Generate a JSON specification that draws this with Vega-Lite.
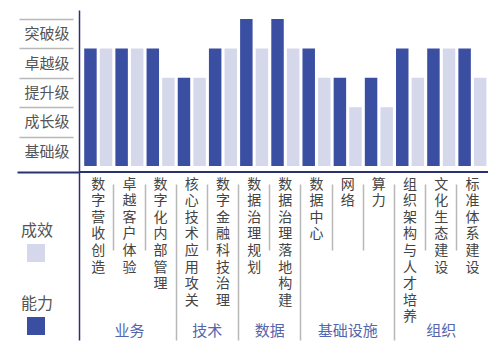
{
  "$schema": "https://vega.github.io/schema/vega-lite/v6.json",
  "width": 409,
  "height": 330,
  "autosize": {"type": "none"},
  "padding": {"left": 79, "top": 10, "right": 12, "bottom": 15},
  "background": "white",
  "config": {"font": "Noto Sans CJK SC", "view": {"stroke": null}},
  "datasets": {
    "bars": [
      {"cat": "数字营收创造", "series": "能力", "value": 4},
      {"cat": "数字营收创造", "series": "成效", "value": 4},
      {"cat": "卓越客户体验", "series": "能力", "value": 4},
      {"cat": "卓越客户体验", "series": "成效", "value": 4},
      {"cat": "数字化内部管理", "series": "能力", "value": 4},
      {"cat": "数字化内部管理", "series": "成效", "value": 3},
      {"cat": "核心技术应用攻关", "series": "能力", "value": 3},
      {"cat": "核心技术应用攻关", "series": "成效", "value": 3},
      {"cat": "数字金融科技治理", "series": "能力", "value": 4},
      {"cat": "数字金融科技治理", "series": "成效", "value": 4},
      {"cat": "数据治理规划", "series": "能力", "value": 5},
      {"cat": "数据治理规划", "series": "成效", "value": 4},
      {"cat": "数据治理落地构建", "series": "能力", "value": 5},
      {"cat": "数据治理落地构建", "series": "成效", "value": 4},
      {"cat": "数据中心", "series": "能力", "value": 4},
      {"cat": "数据中心", "series": "成效", "value": 3},
      {"cat": "网络", "series": "能力", "value": 3},
      {"cat": "网络", "series": "成效", "value": 2},
      {"cat": "算力", "series": "能力", "value": 3},
      {"cat": "算力", "series": "成效", "value": 2},
      {"cat": "组织架构与人才培养", "series": "能力", "value": 4},
      {"cat": "组织架构与人才培养", "series": "成效", "value": 3},
      {"cat": "文化生态建设", "series": "能力", "value": 4},
      {"cat": "文化生态建设", "series": "成效", "value": 4},
      {"cat": "标准体系建设", "series": "能力", "value": 4},
      {"cat": "标准体系建设", "series": "成效", "value": 3}
    ],
    "groups": [
      {"group": "业务", "anchor": "卓越客户体验"},
      {"group": "技术", "anchor": "数字金融科技治理"},
      {"group": "数据", "anchor": "数据治理落地构建"},
      {"group": "基础设施", "anchor": "网络"},
      {"group": "组织", "anchor": "文化生态建设"}
    ],
    "baseline": [{"name": "axis"}]
  },
  "resolve": {"scale": {"color": "independent"}},
  "layer": [
    {
      "data": {"name": "bars"},
      "transform": [{"filter": "datum.series == '能力'"}],
      "mark": {"type": "bar"},
      "encoding": {
        "x": {
          "field": "cat",
          "type": "nominal",
          "scale": {
            "domain": ["数字营收创造", "卓越客户体验", "数字化内部管理", "核心技术应用攻关", "数字金融科技治理", "数据治理规划", "数据治理落地构建", "数据中心", "网络", "算力", "组织架构与人才培养", "文化生态建设", "标准体系建设"],
            "paddingInner": 0,
            "paddingOuter": 0.0585,
            "align": 1
          },
          "axis": {
            "title": null,
            "orient": "bottom",
            "offset": -168,
            "domain": false,
            "bandPosition": 0,
            "tickSize": 168,
            "tickWidth": 1.5,
            "tickColor": {"condition": {"test": "datum.value == '数字营收创造'", "value": "rgba(0,0,0,0)"}, "value": "#b8b8b8"},
            "tickDash": {"condition": {"test": "indexof(['核心技术应用攻关','数据治理规划','数据中心','组织架构与人才培养'], datum.value) >= 0", "value": [0, 12, 156, 500]}, "value": [0, 12, 66, 500]},
            "labelExpr": "split(datum.label, '')",
            "labelAngle": 0,
            "labelAlign": "center",
            "labelBaseline": "top",
            "labelPadding": -163,
            "labelOffset": 0,
            "labelLineHeight": 16.6,
            "labelFontSize": 14,
            "labelColor": "#444444",
            "labelOverlap": false,
            "labelBound": false,
            "labelLimit": 500
          }
        },
        "xOffset": {
          "field": "series",
          "type": "nominal",
          "scale": {"domain": ["能力", "成效"], "paddingInner": 0.2, "paddingOuter": 0.1}
        },
        "y": {
          "field": "value",
          "type": "quantitative",
          "scale": {"domain": [-5.918, 5.306], "nice": false, "zero": false},
          "axis": {
            "title": null,
            "values": [-0.2, 1, 2, 3, 4, 5],
            "grid": false,
            "domainColor": "#2b3270",
            "domainWidth": 1.5,
            "tickSize": 62,
            "tickColor": {"condition": {"test": "datum.value < 0", "value": "#2b3270"}, "value": "#b8b8b8"},
            "tickWidth": {"condition": {"test": "datum.value < 0", "value": 2}, "value": 1.5},
            "tickDash": {"condition": {"test": "datum.value < 0", "value": [62, 10]}, "value": [0, 6, 54, 500]},
            "labelExpr": "datum.value == 5 ? '突破级' : datum.value == 4 ? '卓越级' : datum.value == 3 ? '提升级' : datum.value == 2 ? '成长级' : datum.value == 1 ? '基础级' : ''",
            "labelAlign": "center",
            "labelBaseline": "middle",
            "labelPadding": -29.5,
            "labelOffset": 14.7,
            "labelFontSize": 15,
            "labelColor": "#555555",
            "labelOverlap": false,
            "labelBound": false
          }
        },
        "color": {
          "field": "series",
          "type": "nominal",
          "scale": {"domain": ["能力"], "range": ["#3a4ea2"]},
          "legend": {
            "orient": "none",
            "legendX": -58,
            "legendY": 286,
            "title": "能力",
            "titleFontSize": 16,
            "titleFontWeight": "normal",
            "titleColor": "#555555",
            "titlePadding": 5,
            "padding": 0,
            "symbolType": "square",
            "symbolSize": 324,
            "symbolStrokeWidth": 0,
            "symbolOpacity": 1,
            "symbolOffset": 6,
            "labelExpr": "''",
            "labelFontSize": 1
          }
        }
      }
    },
    {
      "data": {"name": "bars"},
      "transform": [{"filter": "datum.series == '成效'"}],
      "mark": {"type": "bar"},
      "encoding": {
        "x": {"field": "cat", "type": "nominal"},
        "xOffset": {"field": "series", "type": "nominal"},
        "y": {"field": "value", "type": "quantitative"},
        "color": {
          "field": "series",
          "type": "nominal",
          "scale": {"domain": ["成效"], "range": ["#d5d8ea"]},
          "legend": {
            "orient": "none",
            "legendX": -58,
            "legendY": 213,
            "title": "成效",
            "titleFontSize": 16,
            "titleFontWeight": "normal",
            "titleColor": "#555555",
            "titlePadding": 5,
            "padding": 0,
            "symbolType": "square",
            "symbolSize": 324,
            "symbolStrokeWidth": 0,
            "symbolOpacity": 1,
            "symbolOffset": 6,
            "labelExpr": "''",
            "labelFontSize": 1
          }
        }
      }
    },
    {
      "data": {"name": "baseline"},
      "mark": {"type": "rule", "color": "#2b3270", "strokeWidth": 2},
      "encoding": {"y": {"datum": -0.2}}
    },
    {
      "data": {"name": "groups"},
      "transform": [{"filter": "datum.group == '业务' || datum.group == '基础设施' || datum.group == '组织'"}],
      "mark": {"type": "text", "fontSize": 15, "color": "#5565ab", "baseline": "middle"},
      "encoding": {
        "x": {"field": "anchor", "type": "nominal"},
        "y": {"datum": -5.62},
        "text": {"field": "group"}
      }
    },
    {
      "data": {"name": "groups"},
      "transform": [{"filter": "datum.group == '技术' || datum.group == '数据'"}],
      "mark": {"type": "text", "fontSize": 15, "color": "#5565ab", "baseline": "middle"},
      "encoding": {
        "x": {"field": "anchor", "type": "nominal", "bandPosition": 0},
        "y": {"datum": -5.62},
        "text": {"field": "group"}
      }
    }
  ]
}
